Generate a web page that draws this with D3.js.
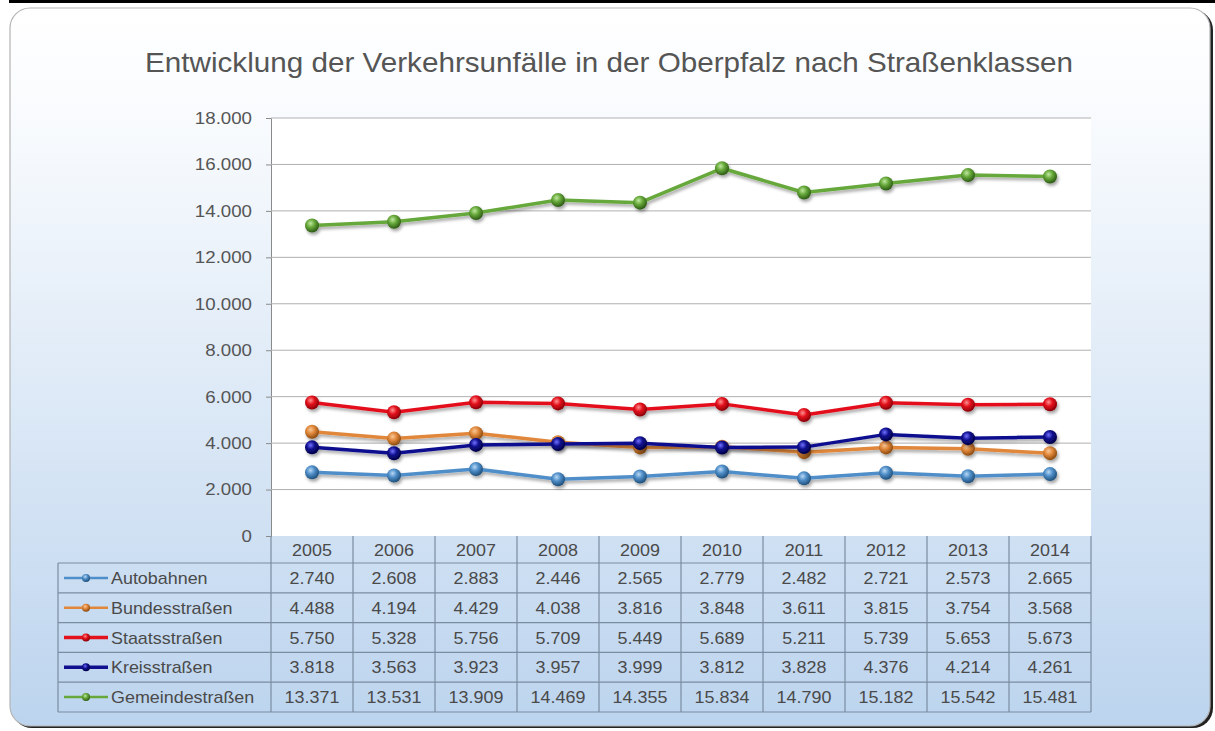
<!DOCTYPE html>
<html>
<head>
<meta charset="utf-8">
<script src="https://cdn.jsdelivr.net/npm/d3@7"></script>
<style>
  body { margin: 0; background: #fff; }
  svg { display: block; font-family: "Liberation Sans", Arial, sans-serif; }
</style>
</head>
<body>
<div id="chart"></div>
<script>
var years = ['2005', '2006', '2007', '2008', '2009', '2010', '2011', '2012', '2013', '2014'];
var seriesNames = ['Autobahnen', 'Bundesstraßen', 'Staatsstraßen', 'Kreisstraßen', 'Gemeindestraßen'];
var autobahnen = [2740, 2608, 2883, 2446, 2565, 2779, 2482, 2721, 2573, 2665];
var bundesstrassen = [4488, 4194, 4429, 4038, 3816, 3848, 3611, 3815, 3754, 3568];
var staatsstrassen = [5750, 5328, 5756, 5709, 5449, 5689, 5211, 5739, 5653, 5673];
var kreisstrassen = [3818, 3563, 3923, 3957, 3999, 3812, 3828, 4376, 4214, 4261];
var gemeindestrassen = [13371, 13531, 13909, 14469, 14355, 15834, 14790, 15182, 15542, 15481];
var yTicks = [0, 2000, 4000, 6000, 8000, 10000, 12000, 14000, 16000, 18000];
var title = 'Entwicklung der Verkehrsunfälle in der Oberpfalz nach Straßenklassen';

var seriesValues = [autobahnen, bundesstrassen, staatsstrassen, kreisstrassen, gemeindestrassen];
var colors = ['#4f8ec8', '#e0873a', '#e3111c', '#10108f', '#66a83a'];
var darks = ['#1f4f7a', '#8a4a10', '#8a0008', '#000045', '#2d5a14'];
var lights = ['#b8d8f4', '#f8c898', '#ff9090', '#7070ff', '#c0e8a0'];

var W = 1215, H = 731;
var plotL = 271, plotR = 1091, plotT = 118, plotB = 536;
var rowH = 29.8, headH = 27;
var sx = 1.12; // text in the source is a bit stretched

// german thousands separator
var fmt = function (v) { return d3.format(',')(v).replace(/,/g, '.'); };

var svg = d3.select('#chart').append('svg').attr('width', W).attr('height', H);
var defs = svg.append('defs');

var bg = defs.append('linearGradient').attr('id', 'bg').attr('x1', 0).attr('y1', 0).attr('x2', 0).attr('y2', 1);
bg.append('stop').attr('offset', '0%').attr('stop-color', '#ffffff');
bg.append('stop').attr('offset', '18%').attr('stop-color', '#f7fafd');
bg.append('stop').attr('offset', '100%').attr('stop-color', '#bcd4ee');

colors.forEach(function (c, i) {
  var g = defs.append('radialGradient').attr('id', 'ball' + i)
    .attr('cx', '40%').attr('cy', '35%').attr('r', '65%');
  g.append('stop').attr('offset', '0%').attr('stop-color', lights[i]);
  g.append('stop').attr('offset', '45%').attr('stop-color', c);
  g.append('stop').attr('offset', '100%').attr('stop-color', darks[i]);
});

var shadow = defs.append('filter').attr('id', 'shadow').attr('x', '-10%').attr('y', '-50%').attr('width', '120%').attr('height', '200%');
shadow.append('feDropShadow').attr('dx', 1.5).attr('dy', 2.5).attr('stdDeviation', 1.6)
  .attr('flood-color', '#000').attr('flood-opacity', 0.35);

function label(sel, x, y, txt, size, anchor) {
  return sel.append('text')
    .attr('transform', 'translate(' + x + ',' + y + ') scale(' + sx + ',1)')
    .attr('text-anchor', anchor || 'middle')
    .attr('font-size', size).attr('fill', '#4a4a4a').text(txt);
}

// top rule and panel
svg.append('rect').attr('x', 9).attr('y', 0).attr('width', W - 9).attr('height', 3).attr('fill', '#000');
svg.append('rect').attr('x', 12).attr('y', 10).attr('width', 1201).attr('height', 718).attr('rx', 20)
  .attr('fill', '#222');
svg.append('rect').attr('x', 10).attr('y', 8).attr('width', 1200).attr('height', 718).attr('rx', 20)
  .attr('fill', 'url(#bg)').attr('stroke', '#b4b4b4').attr('stroke-width', 1.2);

svg.append('text').attr('x', 609).attr('y', 72).attr('text-anchor', 'middle')
  .attr('font-size', 28).attr('fill', '#555')
  .attr('textLength', 928).attr('lengthAdjust', 'spacingAndGlyphs').text(title);

var x = d3.scaleBand().domain(years).range([plotL, plotR]);
var y = d3.scaleLinear().domain([0, 18000]).range([plotB, plotT]);

svg.append('rect').attr('x', plotL).attr('y', plotT).attr('width', plotR - plotL).attr('height', plotB - plotT)
  .attr('fill', '#fff');

// gridlines + y axis
var yAxis = svg.append('g').attr('transform', 'translate(' + plotL + ',0)')
  .call(d3.axisLeft(y).tickValues(yTicks).tickFormat(fmt).tickSize(5).tickPadding(14));
yAxis.select('.domain').attr('stroke', '#8a8a8a');
yAxis.selectAll('.tick line').attr('stroke', '#8a8a8a');
yAxis.selectAll('.tick text')
  .attr('font-size', 17).attr('fill', '#555').attr('font-family', 'Liberation Sans, Arial, sans-serif')
  .attr('x', -19 / 1.1).attr('transform', 'scale(1.1,1)');

svg.append('g').selectAll('line').data(yTicks.filter(function (d) { return d > 0; })).enter()
  .append('line')
  .attr('x1', plotL).attr('x2', plotR)
  .attr('y1', function (d) { return y(d); }).attr('y2', function (d) { return y(d); })
  .attr('stroke', '#b0b0b0').attr('stroke-width', 1);

// series
var line = d3.line().x(function (d, i) { return x(years[i]) + x.bandwidth() / 2; }).y(function (d) { return y(d); });

seriesValues.forEach(function (vals, si) {
  var g = svg.append('g').attr('filter', 'url(#shadow)');
  g.append('path').attr('d', line(vals)).attr('fill', 'none')
    .attr('stroke', colors[si]).attr('stroke-width', 3.5).attr('stroke-linejoin', 'round');
  g.selectAll('circle').data(vals).enter().append('circle')
    .attr('cx', function (d, i) { return x(years[i]) + x.bandwidth() / 2; })
    .attr('cy', function (d) { return y(d); })
    .attr('r', 7).attr('fill', 'url(#ball' + si + ')');
});

// data table
var tableL = 58, tableT = plotB + headH;
var gridC = '#7a8ca0';
var tbl = svg.append('g');

years.forEach(function (yr) {
  label(tbl, x(yr) + x.bandwidth() / 2, plotB + 20, yr, 16);
});

var tableB = tableT + rowH * seriesNames.length;
// vertical lines
var vx = [plotL].concat(years.map(function (d) { return x(d) + x.bandwidth(); }));
tbl.selectAll('line.v').data(vx).enter().append('line')
  .attr('x1', function (d) { return d; }).attr('x2', function (d) { return d; })
  .attr('y1', plotB).attr('y2', tableB).attr('stroke', gridC).attr('stroke-width', 1.2);
tbl.append('line').attr('x1', tableL).attr('x2', tableL).attr('y1', tableT).attr('y2', tableB)
  .attr('stroke', gridC).attr('stroke-width', 1.2);
// horizontal lines
d3.range(seriesNames.length + 1).forEach(function (r) {
  tbl.append('line').attr('x1', tableL).attr('x2', plotR)
    .attr('y1', tableT + r * rowH).attr('y2', tableT + r * rowH)
    .attr('stroke', gridC).attr('stroke-width', 1.2);
});

seriesNames.forEach(function (name, si) {
  var cy = tableT + si * rowH + rowH / 2;
  tbl.append('line').attr('x1', 64).attr('x2', 108).attr('y1', cy).attr('y2', cy)
    .attr('stroke', colors[si]).attr('stroke-width', si === 2 || si === 3 ? 3.5 : 2.5);
  tbl.append('circle').attr('cx', 86).attr('cy', cy).attr('r', 4).attr('fill', 'url(#ball' + si + ')');
  label(tbl, 111, cy + 6, name, 16, 'start');
  seriesValues[si].forEach(function (v, i) {
    label(tbl, x(years[i]) + x.bandwidth() / 2, cy + 6, fmt(v), 16);
  });
});
</script>
</body>
</html>
